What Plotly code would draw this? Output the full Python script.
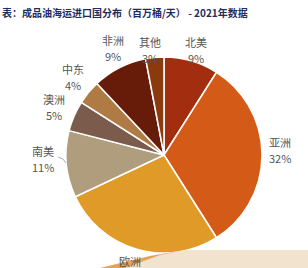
import math
import plotly.graph_objects as go

labels = ["北美", "亚洲", "欧洲", "南美", "澳洲", "中东", "非洲", "其他"]
values = [9, 32, 27, 11, 5, 4, 9, 3]
pct_text = ["9%", "32%", "", "11%", "5%", "4%", "9%", "3%"]
colors = ["#A32E0F", "#D45A18", "#E09A28", "#B09D7E", "#7B5B4B", "#B07A45", "#661C08", "#8B3A0E"]
title = "表：成品油海运进口国分布（百万桶/天） - 2021年数据"

W, H = 308, 268
cx, cy, R = 164, 155, 98
# label placement (style): radial distance and angular nudge in degrees
label_r = [110, 116, 111, 121, 120, 119.5, 118, 106]
label_da = [0.8, -2.5, 1.8, 3.5, 0.2, 1.0, 1.6, -2.2]

fig = go.Figure(go.Pie(
    labels=labels, values=values, sort=False, direction="clockwise", rotation=0,
    marker=dict(colors=colors, line=dict(color="white", width=1.5)),
    textinfo="none", hoverinfo="label+percent", showlegend=False,
    domain=dict(x=[(cx - R) / W, (cx + R) / W], y=[(H - cy - R) / H, (H - cy + R) / H]),
))

# bottom photo strip
fig.add_shape(type="path", xref="paper", yref="paper", layer="above",
              path=f"M {100/W} 0 L {150/W} {12/H} L {185/W} {18/H} L 1 {18/H} L 1 0 Z",
              fillcolor="#F1E3CD", line=dict(width=0))
fig.add_shape(type="path", xref="paper", yref="paper", layer="above",
              path=f"M {100/W} 0 L {150/W} {12/H} L {185/W} {18/H} L {160/W} {13/H} L {125/W} 0 Z",
              fillcolor="#E6A25A", line=dict(width=0))

font = dict(family="Noto Sans CJK SC", size=11, color="#555555")
total = sum(values)
cum = 0
for i, (lab, v) in enumerate(zip(labels, values)):
    mid = (cum + v / 2) / total * 360 + label_da[i]
    cum += v
    a = math.radians(mid)
    px = cx + label_r[i] * math.sin(a)
    py = cy - label_r[i] * math.cos(a)
    if pct_text[i]:
        fig.add_annotation(x=px / W, y=1 - (py - 8) / H, xref="paper", yref="paper",
                           xanchor="center", yanchor="middle", text=lab,
                           showarrow=False, font=font)
        fig.add_annotation(x=px / W, y=1 - (py + 8) / H, xref="paper", yref="paper",
                           xanchor="center", yanchor="middle", text=pct_text[i],
                           showarrow=False, font=font)
    else:
        fig.add_annotation(x=px / W, y=1 - py / H, xref="paper", yref="paper",
                           xanchor="center", yanchor="middle", text=lab,
                           showarrow=False, font=font)

# leader line for 南美
fig.add_shape(type="path", xref="paper", yref="paper",
              path=f"M {58/W} {1-157/H} Q {64/W} {1-158/H} {66/W} {1-163/H}",
              line=dict(color="#999999", width=0.8))

fig.add_annotation(x=0, y=1 - 12 / H, xref="paper", yref="paper", xanchor="left", yanchor="middle",
                   text=f"<b>{title}</b>", showarrow=False,
                   font=dict(family="Noto Sans CJK SC", size=10, color="#1F2D5C"))

fig.update_layout(width=W, height=H, margin=dict(l=0, r=0, t=0, b=0),
                  paper_bgcolor="white", plot_bgcolor="white")
fig.write_html("out.html")
